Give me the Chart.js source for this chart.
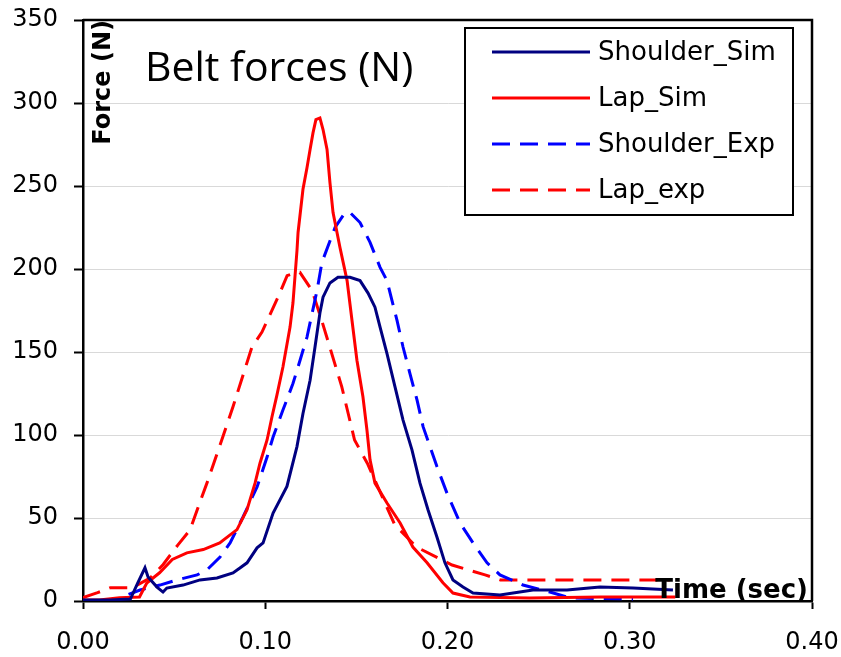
<!DOCTYPE html>
<html>
<head>
<meta charset="utf-8">
<script src="https://cdn.jsdelivr.net/npm/chart.js@4.4.1/dist/chart.umd.min.js"></script>
<style>
  html, body { margin: 0; padding: 0; background: #fff; }
  #wrap { width: 841px; height: 657px; }
</style>
</head>
<body>
<div id="wrap"><canvas id="myChart" width="841" height="657"></canvas></div>
<script>
// values: time (s) and force (N)
const shoulderSimTime = [0, 0.015, 0.026, 0.030, 0.034, 0.0357, 0.0406, 0.0439, 0.046, 0.0549, 0.0642, 0.0735, 0.0823, 0.0861, 0.090, 0.0955, 0.0988, 0.1043, 0.1119, 0.1174, 0.1207, 0.1246, 0.1273, 0.130, 0.1317, 0.1355, 0.1399, 0.1465, 0.152, 0.1564, 0.1602, 0.163, 0.1668, 0.1712, 0.1756, 0.1805, 0.1849, 0.1893, 0.1942, 0.1986, 0.203, 0.2085, 0.214, 0.2288, 0.2469, 0.2656, 0.2837, 0.3018, 0.3237];
const shoulderSimForce = [0.6, 0.6, 1.2, 10.8, 20, 14.5, 8.4, 5.4, 7.8, 9.6, 12.7, 13.9, 16.9, 19.9, 23, 32, 35, 53, 69, 93, 113, 133, 153, 173.5, 183, 191.6, 195, 195, 193, 185.5, 177, 165, 149, 129, 109, 91, 71, 55, 38.6, 23, 12.7, 8.4, 4.8, 3.6, 6.6, 6.6, 8.4, 7.8, 6.6];

const lapSimTime = [0, 0.009, 0.020, 0.031, 0.035, 0.042, 0.049, 0.057, 0.066, 0.075, 0.0845, 0.090, 0.0944, 0.0971, 0.101, 0.1037, 0.1064, 0.1097, 0.1136, 0.1152, 0.1174, 0.118, 0.1207, 0.1229, 0.1246, 0.1262, 0.1278, 0.130, 0.1317, 0.1339, 0.1355, 0.1372, 0.141, 0.1449, 0.1476, 0.1503, 0.1536, 0.1558, 0.1575, 0.1602, 0.1668, 0.174, 0.181, 0.1888, 0.1975, 0.203, 0.2123, 0.245, 0.284, 0.325];
const lapSimForce = [0.6, 0.6, 2, 2.4, 10.8, 17, 25, 29, 31, 35, 43, 55, 71, 83, 97, 111, 124, 141, 165, 179.5, 211, 222, 248, 261, 272, 282, 290, 291, 284, 272, 252, 234, 213, 193, 169, 145, 123, 103, 85, 71, 59, 47, 32.5, 23, 11, 4.8, 2.4, 1.8, 2.4, 2.4];

const shoulderExpTime = [0.025, 0.0313, 0.0422, 0.0516, 0.0626, 0.068, 0.0752, 0.0807, 0.0878, 0.0955, 0.101, 0.1043, 0.1097, 0.1152, 0.1191, 0.1229, 0.1284, 0.1311, 0.1383, 0.1438, 0.1465, 0.152, 0.1575, 0.163, 0.1668, 0.1723, 0.1756, 0.1794, 0.1833, 0.1866, 0.1942, 0.1997, 0.2069, 0.214, 0.2217, 0.2288, 0.2414, 0.2562, 0.2672, 0.3018];
const shoulderExpForce = [4, 6.6, 9.6, 12.7, 15.7, 18.7, 26.5, 35, 50.6, 68.7, 86.7, 98.8, 115, 131, 145, 159, 187, 204, 225, 234, 234, 228, 216, 201, 193, 169, 153, 137, 121, 105, 81, 65, 47, 35, 23, 15.7, 9.6, 5.4, 1.8, 1.2];

const lapExpTime = [0, 0.008, 0.015, 0.027, 0.037, 0.044, 0.052, 0.0587, 0.064, 0.068, 0.0752, 0.0823, 0.0927, 0.0982, 0.107, 0.112, 0.1169, 0.119, 0.1257, 0.131, 0.142, 0.149, 0.156, 0.171, 0.183, 0.2025, 0.2206, 0.229, 0.322];
const lapExpForce = [2, 5, 8, 8, 14, 22, 33.7, 42.8, 59, 71, 94, 117, 153, 162, 183, 196, 198, 198, 187, 169, 129, 97, 83, 46, 32.5, 21.7, 15.7, 12.7, 12.7];

const seriesNames = ["Shoulder_Sim", "Lap_Sim", "Shoulder_Exp", "Lap_exp"];
const xTicks = [0, 0.1, 0.2, 0.3, 0.4];
const yTicks = [0, 50, 100, 150, 200, 250, 300, 350];

function toPoints(ts, fs) {
  return ts.map((t, i) => ({ x: t, y: fs[i] }));
}

const DASH = [18, 10];

// title, axis names, frame and legend are drawn inside the plot
const extras = {
  id: "extras",
  afterDatasetsDraw(chart) {
    const { ctx, chartArea: a } = chart;
    ctx.save();
    // frame on top and right
    ctx.strokeStyle = "#000";
    ctx.lineWidth = 2.5;
    ctx.beginPath();
    ctx.moveTo(a.left, a.top);
    ctx.lineTo(a.right, a.top);
    ctx.lineTo(a.right, a.bottom);
    ctx.stroke();

    // title
    ctx.fillStyle = "#000";
    ctx.font = "41px 'Open Sans'";
    ctx.textBaseline = "alphabetic";
    ctx.textAlign = "left";
    ctx.fillText("Belt forces (N)", 145, 81);

    // axis names
    ctx.font = "bold 24px 'DejaVu Sans'";
    ctx.save();
    ctx.translate(110, 20);
    ctx.rotate(-Math.PI / 2);
    ctx.textAlign = "right";
    ctx.fillText("Force (N)", 0, 0);
    ctx.restore();
    ctx.font = "bold 26px 'DejaVu Sans'";
    ctx.textAlign = "right";
    ctx.fillText("Time (sec)", 808, 598);

    // legend box
    const bx = 465, by = 28, bw = 328, bh = 187;
    ctx.fillStyle = "#fff";
    ctx.fillRect(bx, by, bw, bh);
    ctx.strokeStyle = "#000";
    ctx.lineWidth = 2;
    ctx.strokeRect(bx, by, bw, bh);
    ctx.font = "26px 'DejaVu Sans'";
    ctx.textAlign = "left";
    ctx.textBaseline = "middle";
    chart.data.datasets.forEach((ds, i) => {
      const y = 52 + i * 46;
      ctx.strokeStyle = ds.borderColor;
      ctx.lineWidth = 3;
      ctx.setLineDash(ds.borderDash || []);
      ctx.beginPath();
      ctx.moveTo(492, y);
      ctx.lineTo(590, y);
      ctx.stroke();
      ctx.setLineDash([]);
      ctx.fillStyle = "#000";
      ctx.fillText(ds.label, 598, y + 1);
    });
    ctx.restore();
  }
};

const ctx = document.getElementById("myChart").getContext("2d");
const myChart = new Chart(ctx, {
  type: "line",
  data: {
    datasets: [
      {
        label: seriesNames[0],
        data: toPoints(shoulderSimTime, shoulderSimForce),
        borderColor: "#000080",
        borderWidth: 3
      },
      {
        label: seriesNames[1],
        data: toPoints(lapSimTime, lapSimForce),
        borderColor: "#ff0000",
        borderWidth: 3
      },
      {
        label: seriesNames[2],
        data: toPoints(shoulderExpTime, shoulderExpForce),
        borderColor: "#0000ff",
        borderWidth: 3,
        borderDash: DASH
      },
      {
        label: seriesNames[3],
        data: toPoints(lapExpTime, lapExpForce),
        borderColor: "#ff0000",
        borderWidth: 3,
        borderDash: DASH
      }
    ]
  },
  options: {
    responsive: false,
    animation: false,
    devicePixelRatio: 1,
    layout: { padding: { left: 0, right: 29, top: 20, bottom: 0 } },
    elements: { point: { radius: 0 }, line: { tension: 0, fill: false } },
    plugins: { legend: { display: false }, tooltip: { enabled: false } },
    scales: {
      x: {
        type: "linear",
        min: 0,
        max: 0.4,
        afterBuildTicks(axis) { axis.ticks = xTicks.map(v => ({ value: v })); },
        afterFit(axis) {
          axis.height = 56;
          axis.paddingLeft = 0;
          axis.paddingRight = 0;
        },
        ticks: {
          color: "#000",
          font: { family: "DejaVu Sans", size: 24 },
          padding: 19,
          maxRotation: 0,
          callback: v => Number(v).toFixed(2)
        },
        grid: { drawOnChartArea: false, tickLength: 8, tickColor: "#000", tickWidth: 2 },
        border: { color: "#000", width: 2.5 }
      },
      y: {
        type: "linear",
        min: 0,
        max: 350,
        afterBuildTicks(axis) { axis.ticks = yTicks.map(v => ({ value: v })); },
        afterFit(axis) {
          axis.width = 83;
          axis.paddingTop = 0;
          axis.paddingBottom = 0;
        },
        ticks: {
          color: "#000",
          font: { family: "DejaVu Sans", size: 24 },
          padding: 16
        },
        grid: { color: "#d9d9d9", lineWidth: 1, tickLength: 9, tickColor: "#000", tickWidth: 2 },
        border: { color: "#000", width: 2.5 }
      }
    }
  },
  plugins: [extras]
});
</script>
</body>
</html>
